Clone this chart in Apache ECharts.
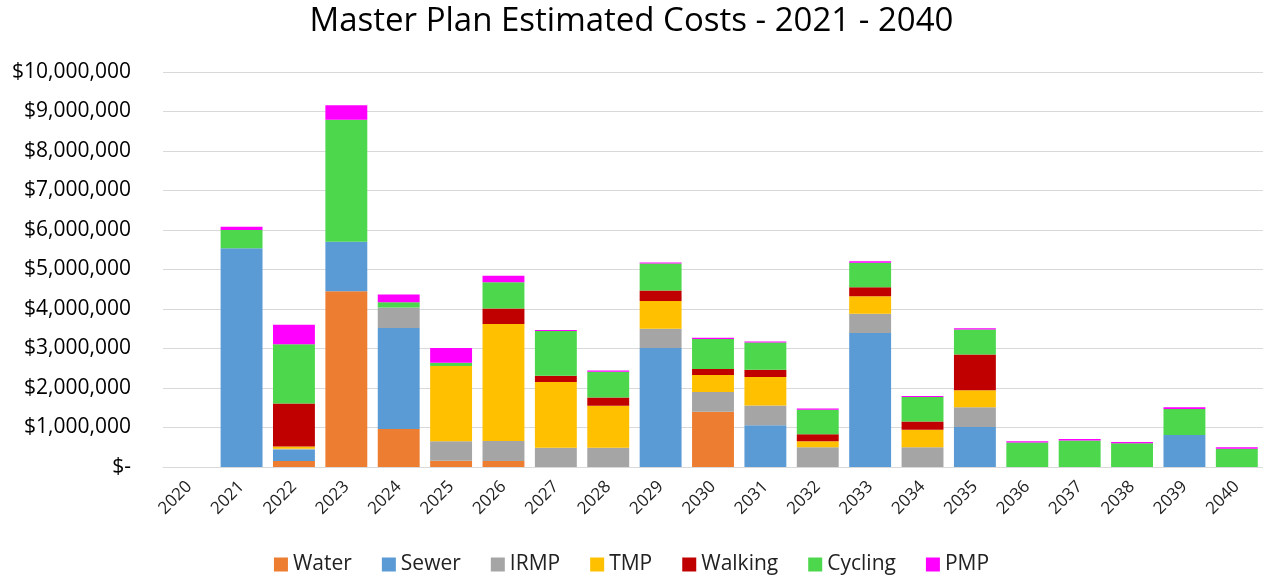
<!DOCTYPE html>
<html>
<head>
<meta charset="utf-8">
<script src="https://cdn.jsdelivr.net/npm/echarts@6/dist/echarts.min.js"></script>
<style>
  html, body { margin: 0; padding: 0; background: #fff; }
  #chart { width: 1263px; height: 580px; }
</style>
</head>
<body>
<div id="chart"></div>
<script>
const years = ['2020','2021','2022','2023','2024','2025','2026','2027','2028','2029','2030',
  '2031','2032','2033','2034','2035','2036','2037','2038','2039','2040'];

const water   = [0, 0, 150000, 4450000, 960000, 160000, 150000, 0, 0, 0, 1400000, 0, 0, 0, 0, 0, 0, 0, 0, 0, 0];
const sewer   = [0, 5540000, 290000, 1250000, 2560000, 0, 0, 0, 0, 3010000, 0, 1060000, 0, 3390000, 0, 1010000, 0, 0, 0, 810000, 0];
const irmp    = [0, 0, 20000, 0, 520000, 490000, 510000, 490000, 490000, 490000, 500000, 500000, 500000, 490000, 500000, 500000, 0, 0, 0, 0, 0];
const tmp     = [0, 0, 60000, 0, 0, 1910000, 2960000, 1660000, 1060000, 700000, 430000, 720000, 150000, 440000, 440000, 430000, 0, 0, 0, 0, 0];
const walking = [0, 0, 1090000, 0, 0, 0, 390000, 160000, 210000, 270000, 150000, 180000, 180000, 230000, 210000, 910000, 0, 0, 0, 0, 0];
const cycling = [0, 460000, 1500000, 3090000, 130000, 80000, 670000, 1130000, 650000, 680000, 760000, 690000, 620000, 620000, 620000, 630000, 620000, 670000, 600000, 660000, 460000];
const pmp     = [0, 80000, 490000, 370000, 200000, 370000, 160000, 30000, 30000, 30000, 30000, 30000, 30000, 40000, 30000, 30000, 30000, 40000, 30000, 40000, 40000];

const seriesNames = ['Water', 'Sewer', 'IRMP', 'TMP', 'Walking', 'Cycling', 'PMP'];
const seriesData = [water, sewer, irmp, tmp, walking, cycling, pmp];
const colors = ['#ED7D31', '#5B9BD5', '#A5A5A5', '#FFC000', '#C00000', '#4CD74C', '#FF00FF'];

const chart = echarts.init(document.getElementById('chart'));

const money = (v) => {
  if (v === 0) return '$-';
  return '$' + v.toString().replace(/\B(?=(\d{3})+(?!\d))/g, ',');
};

chart.setOption({
  animation: false,
  color: colors,
  textStyle: { fontFamily: 'Open Sans' },
  title: {
    text: 'Master Plan Estimated Costs - 2021 - 2040',
    left: 'center',
    top: 0,
    textStyle: { fontSize: 33, fontWeight: 'normal', color: '#000', fontFamily: 'Open Sans' }
  },
  legend: {
    bottom: 0,
    left: 'center',
    itemWidth: 14,
    itemHeight: 14,
    itemGap: 30,
    icon: 'rect',
    textStyle: { fontSize: 21, color: '#222' },
    data: seriesNames
  },
  grid: { left: 163, right: 0, top: 72, bottom: 113 },
  xAxis: {
    type: 'category',
    data: years,
    axisTick: { show: false },
    axisLine: { lineStyle: { color: '#d9d9d9' } },
    axisLabel: { rotate: 45, fontSize: 17, color: '#222', margin: 17 }
  },
  yAxis: {
    type: 'value',
    min: 0,
    max: 10000000,
    interval: 1000000,
    axisLine: { show: false },
    axisTick: { show: false },
    splitLine: { lineStyle: { color: '#d9d9d9' } },
    axisLabel: { fontSize: 21, color: '#000', margin: 32, formatter: money }
  },
  series: seriesNames.map((name, i) => ({
    name: name,
    type: 'bar',
    stack: 'total',
    barCategoryGap: '20%',
    data: seriesData[i]
  }))
});
</script>
</body>
</html>
